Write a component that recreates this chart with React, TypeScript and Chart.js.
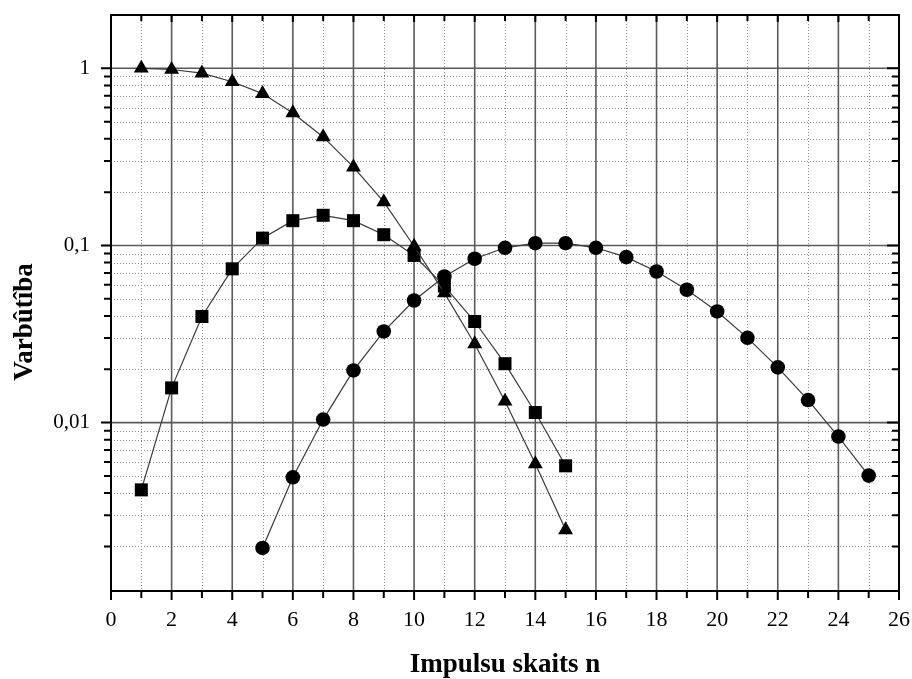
import React, { useEffect, useRef } from 'react';
import { Chart, registerables } from 'chart.js';

Chart.register(...registerables);

// ---- data ----
const triangleN = [1, 2, 3, 4, 5, 6, 7, 8, 9, 10, 11, 12, 13, 14, 15];
const triangleValues = [1.0, 0.985, 0.94, 0.84, 0.72, 0.56, 0.41, 0.277, 0.176, 0.099, 0.054, 0.0278, 0.0132, 0.00585, 0.00248];

const squareN = [1, 2, 3, 4, 5, 6, 7, 8, 9, 10, 11, 12, 13, 14, 15];
const squareValues = [0.00417, 0.0157, 0.0397, 0.0738, 0.11, 0.138, 0.148, 0.138, 0.115, 0.0878, 0.059, 0.0372, 0.0215, 0.0114, 0.0057];

const circleN = [5, 6, 7, 8, 9, 10, 11, 12, 13, 14, 15, 16, 17, 18, 19, 20, 21, 22, 23, 24, 25];
const circleValues = [0.00196, 0.00491, 0.0104, 0.0197, 0.0327, 0.0489, 0.0668, 0.0841, 0.097, 0.103, 0.103, 0.097, 0.0859, 0.0713, 0.0562, 0.0424, 0.0301, 0.0205, 0.0134, 0.00834, 0.00502];

const xMin = 0;
const xMax = 26;
const xTickValues = [0, 1, 2, 3, 4, 5, 6, 7, 8, 9, 10, 11, 12, 13, 14, 15, 16, 17, 18, 19, 20, 21, 22, 23, 24, 25, 26];
const xLabelledTicks = [0, 2, 4, 6, 8, 10, 12, 14, 16, 18, 20, 22, 24, 26];

const yMin = 0.00112;
const yMax = 2;
const yMajorTicks = [0.01, 0.1, 1];
const yMajorLabels = ['0,01', '0,1', '1'];
const yMinorTicks = [
  0.002, 0.003, 0.004, 0.005, 0.006, 0.007, 0.008, 0.009,
  0.02, 0.03, 0.04, 0.05, 0.06, 0.07, 0.08, 0.09,
  0.2, 0.3, 0.4, 0.5, 0.6, 0.7, 0.8, 0.9,
];

const xTitle = 'Impulsu skaits n';
const yTitle = 'Varbûtîba';

const FONT = '"Liberation Serif", "Times New Roman", Times, serif';

function pts(xs: number[], ys: number[]) {
  return xs.map((x, i) => ({ x, y: ys[i] }));
}

function zeroPad(s: any) {
  s.paddingTop = 0;
  s.paddingBottom = 0;
  s.paddingLeft = 0;
  s.paddingRight = 0;
}

const gridPlugin = {
  id: 'customGrid',
  beforeDatasetsDraw(chart: any) {
    const { ctx, chartArea } = chart;
    const xs = chart.scales.x;
    const ys = chart.scales.y;
    const { left, right, top, bottom } = chartArea;
    ctx.save();
    // minor dotted
    ctx.strokeStyle = '#8a8a8a';
    ctx.lineWidth = 1;
    ctx.setLineDash([1, 2]);
    yMinorTicks.forEach((v) => {
      const y = Math.round(ys.getPixelForValue(v)) + 0.5;
      ctx.beginPath();
      ctx.moveTo(left, y);
      ctx.lineTo(right, y);
      ctx.stroke();
    });
    xTickValues.forEach((v) => {
      if (v % 2 === 0) return;
      const x = Math.round(xs.getPixelForValue(v)) + 0.5;
      ctx.beginPath();
      ctx.moveTo(x, top);
      ctx.lineTo(x, bottom);
      ctx.stroke();
    });
    // major solid
    ctx.setLineDash([]);
    ctx.strokeStyle = '#5a5a5a';
    ctx.lineWidth = 1.6;
    yMajorTicks.forEach((v) => {
      const y = ys.getPixelForValue(v);
      ctx.beginPath();
      ctx.moveTo(left, y);
      ctx.lineTo(right, y);
      ctx.stroke();
    });
    xLabelledTicks.forEach((v) => {
      const x = xs.getPixelForValue(v);
      ctx.beginPath();
      ctx.moveTo(x, top);
      ctx.lineTo(x, bottom);
      ctx.stroke();
    });
    ctx.restore();
  },
  afterDatasetsDraw(chart: any) {
    const { ctx, chartArea } = chart;
    const xs = chart.scales.x;
    const ys = chart.scales.y;
    const { left, right, top, bottom } = chartArea;
    ctx.save();
    ctx.strokeStyle = '#000';
    ctx.lineWidth = 2;
    ctx.strokeRect(left, top, right - left, bottom - top);
    // x ticks (bottom outward, top inward)
    xTickValues.forEach((v) => {
      const x = xs.getPixelForValue(v);
      const major = v % 2 === 0;
      const lb = major ? 9 : 7;
      const lt = major ? 7 : 6;
      ctx.beginPath();
      ctx.moveTo(x, bottom);
      ctx.lineTo(x, bottom + lb);
      ctx.moveTo(x, top);
      ctx.lineTo(x, top + lt);
      ctx.stroke();
    });
    // y ticks (left outward, right inward)
    const yTickAll = [...yMinorTicks.map((v) => ({ v, major: false })), ...yMajorTicks.map((v) => ({ v, major: true }))];
    yTickAll.forEach(({ v, major }) => {
      const y = ys.getPixelForValue(v);
      const l = major ? 10 : 7;
      ctx.beginPath();
      ctx.moveTo(left, y);
      ctx.lineTo(left - l, y);
      ctx.moveTo(right, y);
      ctx.lineTo(right - (major ? 12 : 7), y);
      ctx.stroke();
    });
    // titles
    ctx.fillStyle = '#000';
    ctx.font = `bold 27px ${FONT}`;
    ctx.textAlign = 'center';
    ctx.textBaseline = 'alphabetic';
    ctx.fillText(xTitle, (left + right) / 2, 672);
    ctx.translate(32, 322);
    ctx.rotate(-Math.PI / 2);
    ctx.fillText(yTitle, 0, 0);
    ctx.restore();
  },
};

export default function App() {
  const ref = useRef<HTMLCanvasElement | null>(null);

  useEffect(() => {
    if (!ref.current) return;
    const common = {
      showLine: true,
      borderColor: '#3a3a3a',
      borderWidth: 1.2,
      backgroundColor: '#000',
      pointBackgroundColor: '#000',
      pointBorderColor: '#000',
      pointBorderWidth: 0,
      tension: 0,
    };
    const chart = new Chart(ref.current, {
      type: 'scatter',
      data: {
        datasets: [
          { ...common, label: 'triangles', data: pts(triangleN, triangleValues), pointStyle: 'triangle', pointRadius: 8.6 },
          { ...common, label: 'squares', data: pts(squareN, squareValues), pointStyle: 'rect', pointRadius: 9.2 },
          { ...common, label: 'circles', data: pts(circleN, circleValues), pointStyle: 'circle', pointRadius: 7.3 },
        ],
      },
      options: {
        animation: false,
        responsive: true,
        maintainAspectRatio: false,
        layout: { padding: { left: 0, top: 15, right: 13, bottom: 0 } },
        plugins: {
          legend: { display: false },
          tooltip: { enabled: false },
          title: { display: false },
        },
        scales: {
          x: {
            type: 'linear',
            min: xMin,
            max: xMax,
            afterBuildTicks: (s: any) => {
              s.ticks = xLabelledTicks.map((v) => ({ value: v }));
            },
            afterFit: (s: any) => {
              s.height = 88;
              zeroPad(s);
            },
            ticks: {
              autoSkip: false,
              maxRotation: 0,
              padding: 16,
              color: '#000',
              font: { family: FONT, size: 22 },
              callback: (v: any) => String(v),
            },
            grid: { display: false, drawTicks: false },
            border: { display: false },
          },
          y: {
            type: 'logarithmic',
            min: yMin,
            max: yMax,
            afterBuildTicks: (s: any) => {
              s.ticks = yMajorTicks.map((v) => ({ value: v }));
            },
            afterFit: (s: any) => {
              s.width = 111;
              zeroPad(s);
            },
            ticks: {
              autoSkip: false,
              padding: 21,
              color: '#000',
              font: { family: FONT, size: 21 },
              callback: (v: any) => {
                const i = yMajorTicks.findIndex((m) => Math.abs(m - v) / m < 1e-6);
                return i >= 0 ? yMajorLabels[i] : '';
              },
            },
            grid: { display: false, drawTicks: false },
            border: { display: false },
          },
        },
      },
      plugins: [gridPlugin],
    });
    return () => chart.destroy();
  }, []);

  return (
    <div style={{ position: 'fixed', left: 0, top: 0, width: 912, height: 679, background: '#fff' }}>
      <canvas ref={ref} />
    </div>
  );
}
